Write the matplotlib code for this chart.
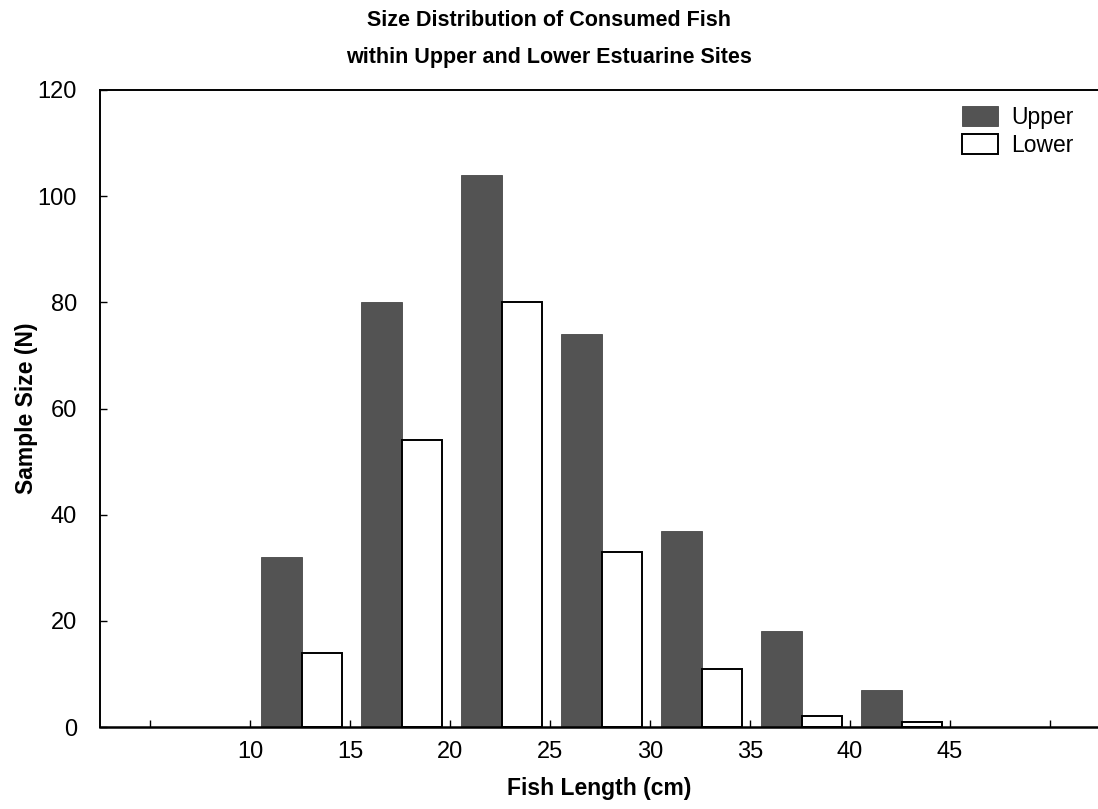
import matplotlib.pyplot as plt
import numpy as np

plt.rcParams['font.family'] = ['Liberation Sans', 'DejaVu Sans']

# lower edge of each 5 cm length class
bins = [10, 15, 20, 25, 30, 35, 40]
upper = [32, 80, 104, 74, 37, 18, 7]
lower = [14, 54, 80, 33, 11, 2, 1]
xticks = [5, 10, 15, 20, 25, 30, 35, 40, 45, 50]
xlabels = ['', '10', '15', '20', '25', '30', '35', '40', '45', '']

fig = plt.figure(figsize=(10.98, 8.09), dpi=100)
ax = fig.add_axes([100 / 1098, 1 - 727 / 809, 1 - 100 / 1098, (727 - 90) / 809])

b = np.array(bins)
ax.bar(b + 0.55, upper, width=2.05, align='edge', color='#535353',
       edgecolor='#474747', linewidth=0.6, label='Upper')
ax.bar(b + 2.6, lower, width=2.0, align='edge', color='white',
       edgecolor='black', linewidth=1.4, label='Lower')

ax.set_xlim(2.5, 52.4)
ax.set_ylim(0, 120)
ax.set_xticks(xticks)
ax.set_xticklabels(xlabels)
ax.set_yticks(range(0, 121, 20))
ax.tick_params(direction='in', length=5, width=1, labelsize=17, pad=10)
ax.tick_params(axis='y', pad=16.5)

ax.spines['right'].set_visible(False)
ax.spines['left'].set_linewidth(1.4)
ax.spines['top'].set_linewidth(1.4)
ax.spines['bottom'].set_linewidth(1.8)

ax.set_xlabel('Fish Length (cm)', fontsize=16.5, fontweight='bold', labelpad=10)
ax.set_ylabel('Sample Size (N)', fontsize=16.5, fontweight='bold', labelpad=0)

title = 'Size Distribution of Consumed Fish\nwithin Upper and Lower Estuarine Sites'
fig.text(0.5, 1 - 39 / 809, title, ha='center', va='center',
         fontsize=15.5, fontweight='bold', linespacing=1.95)

leg = ax.legend(loc='upper right', frameon=False, fontsize=16.5, handlelength=1.57,
                handleheight=0.95, handletextpad=0.6, labelspacing=0.2,
                borderaxespad=0.3, bbox_to_anchor=(0.992, 1.0))

fig.savefig('out.png', dpi=100)
